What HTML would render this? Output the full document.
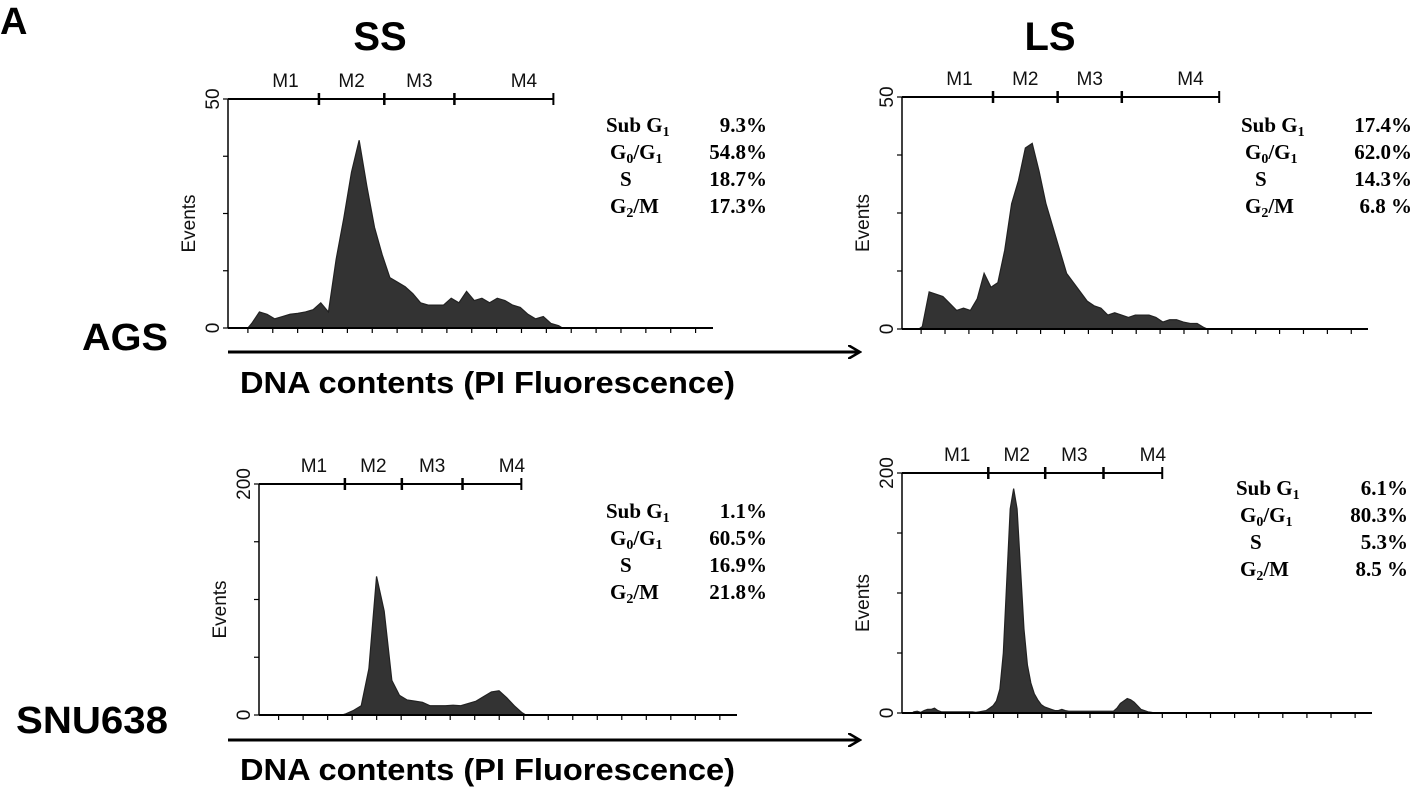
<!DOCTYPE html>
<html><head><meta charset="utf-8"><style>
html,body{margin:0;padding:0;background:#fff;}
svg{display:block;}
.lbl{font-family:"Liberation Sans",sans-serif;font-weight:bold;fill:#000;}
.st{font-family:"Liberation Serif",serif;font-weight:bold;font-size:21px;fill:#000;}
.ax{font-family:"Liberation Sans",sans-serif;font-size:19px;fill:#111;}
</style></head><body>
<svg id="fig" width="1410" height="797" viewBox="0 0 1410 797" xmlns="http://www.w3.org/2000/svg">
<defs><marker id="ah" markerWidth="14" markerHeight="14" refX="12" refY="7" orient="auto" markerUnits="userSpaceOnUse"><path d="M0,0 L12,7 L0,14" fill="none" stroke="#000" stroke-width="2.5"/></marker></defs>
<text class="lbl" x="0" y="34" font-size="38">A</text>
<text class="lbl" x="380" y="50" font-size="40" text-anchor="middle">SS</text>
<text class="lbl" x="1050" y="50" font-size="40" text-anchor="middle">LS</text>
<text class="lbl" x="82" y="350" font-size="38" textLength="86" lengthAdjust="spacingAndGlyphs">AGS</text>
<text class="lbl" x="16" y="733" font-size="38" textLength="152" lengthAdjust="spacingAndGlyphs">SNU638</text>
<line x1="228" y1="352" x2="860" y2="352" stroke="#000" stroke-width="3" marker-end="url(#ah)"/>
<line x1="228" y1="740" x2="860" y2="740" stroke="#000" stroke-width="3" marker-end="url(#ah)"/>
<text class="lbl" x="240" y="393" font-size="31" textLength="495" lengthAdjust="spacingAndGlyphs">DNA contents (PI Fluorescence)</text>
<text class="lbl" x="240" y="780" font-size="31" textLength="495" lengthAdjust="spacingAndGlyphs">DNA contents (PI Fluorescence)</text>
</svg>
<script>
// Panel A: AGS SS (events 0-50)
const agsSsValues=[1,3.5,3,2,2.5,3,3.2,3.5,4,5.5,3.5,15,24,34,41,31,22,16,11,10,9,7.5,5.5,5,5,5,6.5,5.5,8,6,6.5,5.5,6.5,6,5,4.5,3,2,2.5,1,0.5];
// Panel B: AGS LS
const agsLsValues=[0.5,8,7.5,7,5.5,4,4.5,4,6.5,12,9,10,17,27,32,39,40,34,27,22,17,12,10,8,6,5,4.5,3,3.5,3,2.5,3,3,3,2.5,1.5,2,2,1.5,1.2,1.2,0.3];
// Panel C: SNU638 SS (events 0-200)
const snuSsValues=[1,4,8,40,120,90,30,17,13,12,11,8,8,8,8.5,8,10,12,16,20,21,15,8,2];
// Panel D: SNU638 LS
const snuLsValues=[1,1.5,0.5,2,3,3,4,2,1,1,1,1,1,1,1,1,1,1,0.5,1,1.5,2,4,6,10,20,50,110,170,187,170,120,70,40,25,16,11,7,5,4,3,2,2,3,2,1.5,1.5,1.5,1.5,1.5,1.5,1.5,1.5,1.5,1.5,1.5,1.5,1.5,1.5,4,8,10,12,11,9,6,3,2,1,0.5,0];
const yTickLabelsSmall=["0","50"];
const yTickLabelsLarge=["0","200"];
const markerNames=["M1","M2","M3","M4"];
const agsSsStats=["9.3%","54.8%","18.7%","17.3%"];
const agsLsStats=["17.4%","62.0%","14.3%","6.8  %"];
const snuSsStats=["1.1%","60.5%","16.9%","21.8%"];
const snuLsStats=["6.1%","80.3%","5.3%","8.5 %"];
// marker boundaries in channel units (0-1024)
const agsSsMarkers=[0,192,330,478,687];
const agsLsMarkers=[0,200,342,483,697];
const snuSsMarkers=[0,184,306,436,562];
const snuLsMarkers=[0,188,312,439,567];

const NS="http://www.w3.org/2000/svg";
const svg=document.getElementById('fig');
function mk(tag,attrs,parent){const e=document.createElementNS(NS,tag);for(const k in attrs)e.setAttribute(k,attrs[k]);(parent||svg).appendChild(e);return e;}

function panel(o){
  const g=mk('g',{});
  
  
  const xs=c=>o.x0+c/1024*o.w;
  const ys=v=>o.yb-v/o.ymax*(o.yb-o.yt);
  let d='M'+xs(o.start)+','+o.yb;
  o.vals.forEach((v,i)=>{d+=' L'+xs(o.start+(i+0.5)*o.step)+','+ys(v);});
  d+=' L'+xs(o.start+o.vals.length*o.step)+','+o.yb+' Z';
  const h=mk('path',{d:d,fill:'#333',stroke:'#222','stroke-width':1.2,'stroke-linejoin':'miter'},g);
  
  
  const ya=mk('line',{x1:o.x0,y1:o.yt,x2:o.x0,y2:o.yb,stroke:'#000','stroke-width':1.5},g);
  
  
  const xa=mk('line',{x1:o.x0,y1:o.yb,x2:o.x0+o.w,y2:o.yb,stroke:'#000','stroke-width':2},g);
  
  
  for(let i=0;i<=4;i++){const y=o.yt+i*(o.yb-o.yt)/4;mk('line',{x1:o.x0-5,y1:y,x2:o.x0,y2:y,stroke:'#000','stroke-width':1.2},g);}
  const sp=o.w/19.5;
  for(let i=0;i<19;i++){const x=o.x0+sp*0.8+i*sp;mk('line',{x1:x,y1:o.yb,x2:x,y2:o.yb+5,stroke:'#000','stroke-width':1.2},g);}
  [[o.yb,o.ylab[0]],[o.yt,o.ylab[1]]].forEach(([y,t])=>{
    const tx=mk('text',{class:'ax',x:0,y:0,'text-anchor':'middle',transform:`translate(${o.x0-9},${y}) rotate(-90)`},g);
    tx.textContent=t;
    
    
  });
  const ev=mk('text',{class:'ax','text-anchor':'middle',transform:`translate(${o.x0-33},${(o.yt+o.yb)/2+10}) rotate(-90)`},g);
  ev.textContent='Events';
  
  
  const m=o.markers;
  const mb=mk('line',{x1:xs(m[0]),y1:o.yt,x2:xs(m[4]),y2:o.yt,stroke:'#000','stroke-width':2},g);
  
  
  m.forEach((c,i)=>{if(i>0)mk('line',{x1:xs(c),y1:o.yt-6,x2:xs(c),y2:o.yt+6,stroke:'#000','stroke-width':i==4?2:2.5},g);});
  markerNames.forEach((n,i)=>{
    const cx=i==3?(xs(m[3])+xs(m[4]))/2+20:(xs(m[i])+xs(m[i+1]))/2+(i==0?12:0);
    const t=mk('text',{class:'ax',x:cx,y:o.yt-12,'text-anchor':'middle'},g);
    t.textContent=n;
    
    
  });
  const subs=[['Sub G','1',''],['G','0','/G','1'],['S'],['G','2','/M']];
  o.stats.forEach((v,i)=>{
    const y=o.sy+i*o.sdy;
    const t=mk('text',{class:'st',x:o.sx+[0,4,14,4][i],y:y},g);
    
    
    subs[i].forEach((p,j)=>{if(!p)return;const ts=mk('tspan',{},t);ts.textContent=p;if(j%2==1){ts.setAttribute('font-size','14');ts.setAttribute('dy','4');}else if(j>0){ts.setAttribute('dy','-4');}});
    const tv=mk('text',{class:'st',x:o.vx,y:y,'text-anchor':'end'},g);
    tv.textContent=v;
    
    
  });
}
panel({name:'ags-ss-histogram',x0:228,w:485,yt:99,yb:328,ymax:50,ylab:yTickLabelsSmall,vals:agsSsValues,start:42,step:16.2,markers:agsSsMarkers,stats:agsSsStats,sx:606,vx:767,sy:132,sdy:27});
panel({name:'ags-ls-histogram',x0:902,w:466,yt:97,yb:329,ymax:50,ylab:yTickLabelsSmall,vals:agsLsValues,start:37,step:15.1,markers:agsLsMarkers,stats:agsLsStats,sx:1241,vx:1412,sy:132,sdy:27});
panel({name:'snu638-ss-histogram',x0:259,w:478,yt:484,yb:715,ymax:200,ylab:yTickLabelsLarge,vals:snuSsValues,start:178,step:16.4,markers:snuSsMarkers,stats:snuSsStats,sx:606,vx:767,sy:518,sdy:27});
panel({name:'snu638-ls-histogram',x0:902,w:470,yt:473,yb:713,ymax:200,ylab:yTickLabelsLarge,vals:snuLsValues,start:22,step:7.5,markers:snuLsMarkers,stats:snuLsStats,sx:1236,vx:1408,sy:495,sdy:27});
</script>
</body></html>
